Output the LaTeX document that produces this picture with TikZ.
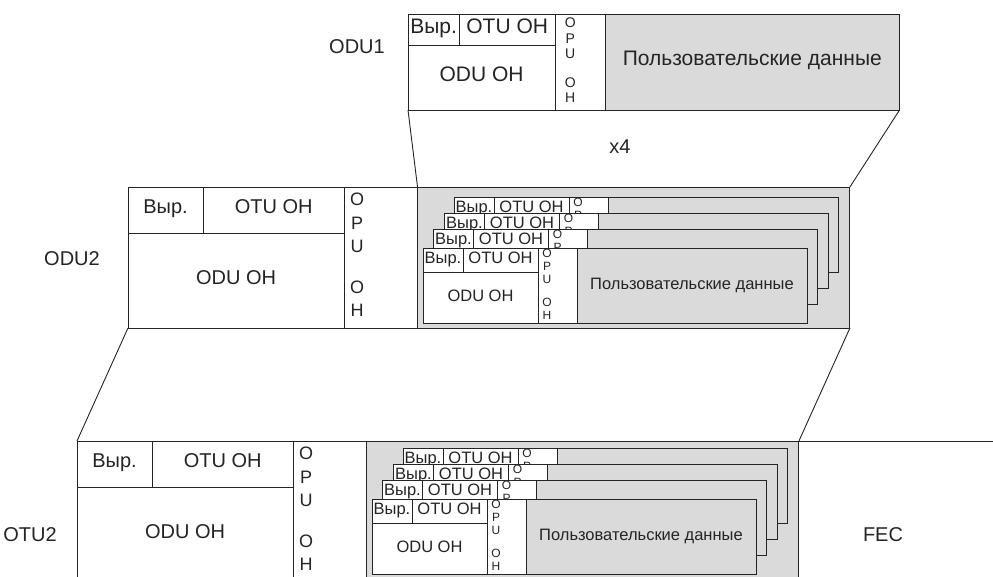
\documentclass[tikz,border=0pt]{standalone}
\usepackage{fontspec}
\setmainfont{Liberation Sans}
\usetikzlibrary{calc}
\definecolor{datagray}{RGB}{218,218,218}
\definecolor{ink}{RGB}{36,36,36}
\tikzset{
  frameline/.style={draw=ink, line width=0.9pt},
  txt/.style={text=ink, inner sep=0pt, text height=0.72em, text depth=0pt},
  opubase/.style={text=ink, inner sep=0pt, align=center, anchor=north},
  bigmain/.style={txt, font=\fontsize{20}{22}\selectfont},
  bigopu/.style={opubase, font=\fontsize{18}{23.5}\selectfont, xshift=13pt, yshift=-6pt, execute at begin node={\def\opugap{17pt}}},
  topmain/.style={txt, font=\fontsize{21}{23}\selectfont},
  topopu/.style={opubase, font=\fontsize{14}{15.5}\selectfont, xshift=15pt, yshift=-4pt, execute at begin node={\def\opugap{13pt}}},
  innmain/.style={txt, font=\fontsize{16.5}{18}\selectfont},
  innopu/.style={opubase, font=\fontsize{12}{13}\selectfont, xshift=9pt, yshift=-1pt, execute at begin node={\def\opugap{10pt}}},
  lbl/.style={txt, font=\fontsize{20}{22}\selectfont},
}
% frame: name, left, top, scale, kind
\newcommand\ofr[5]{%
\begin{scope}[shift={(#2,#3)}, x=#4pt, y=-#4pt]
 \fill[white] (0,0) rectangle (384,75);
 \fill[datagray] (154,0) rectangle (384,75);
 \draw[frameline] (0,0) rectangle (384,75);
 \draw[frameline] (40,0) -- (40,24.5) (0,24.5) -- (115,24.5) (115,0) -- (115,75) (154,0) -- (154,75);
 \coordinate (#1-tl) at (0,0);
 \coordinate (#1-tr) at (384,0);
 \coordinate (#1-bl) at (0,75);
 \coordinate (#1-br) at (384,75);
 \coordinate (#1-sl) at (154,0);
 \coordinate (#1-oc) at (57.5,49.75);
 \node[#5main] (#1-vyr) at (20,12.25) {Выр.};
 \node[#5main] (#1-otu) at (77.5,12.25) {OTU OH};
 \node[#5opu] (#1-opu) at (115,0) {O\\P\\U\\[\opugap]O\\H};
\end{scope}}
\newcommand\ofrodu[2]{%
 \node[#2main] (#1-odu) at (#1-oc) {ODU OH};}
\newcommand\ofrdata[2]{%
 \node[#2main] (#1-data) at ($(#1-sl)!0.5!(#1-br)$) {Пользовательские данные};}
\begin{document}
\begin{tikzpicture}[x=1pt, y=-1pt]
\useasboundingbox (0,0) rectangle (993,577);
% ODU1
\ofr{odua}{408}{14}{1.28}{top}
\ofrodu{odua}{top}
\ofrdata{odua}{top}
% ODU2
\ofr{odub}{128}{187}{1.88}{big}
\ofrodu{odub}{big}
\ofr{ib1}{454}{197}{1}{inn}
\ofr{ib2}{444.5}{213}{1}{inn}
\ofr{ib3}{433.5}{229}{1}{inn}
\ofr{ib4}{423}{248}{1}{inn}\ofrodu{ib4}{inn}\ofrdata{ib4}{inn}
% OTU2
\ofr{otub}{77}{441}{1.88}{big}
\ofrodu{otub}{big}
\ofr{ic1}{403}{448}{1}{inn}
\ofr{ic2}{393.5}{464}{1}{inn}
\ofr{ic3}{382.5}{480}{1}{inn}
\ofr{ic4}{372}{499}{1}{inn}\ofrodu{ic4}{inn}\ofrdata{ic4}{inn}
\coordinate (fecend) at (993,441);
% connectors
\draw[frameline] (odua-bl) -- (odub-sl);
\draw[frameline] (odua-br) -- (odub-tr);
\draw[frameline] (odub-bl) -- (otub-tl);
\draw[frameline] (odub-br) -- (otub-tr);
\draw[frameline] (otub-tr) -- (fecend);
% labels
\node[lbl] (lodua) at (357,50) {ODU1};
\node[lbl] (lodub) at (72,262) {ODU2};
\node[lbl] (lotub) at (30,538) {OTU2};
\node[lbl] (lfec) at (883,538) {FEC};
\node[lbl] (lx) at (620,150) {x4};
\end{tikzpicture}
\end{document}
